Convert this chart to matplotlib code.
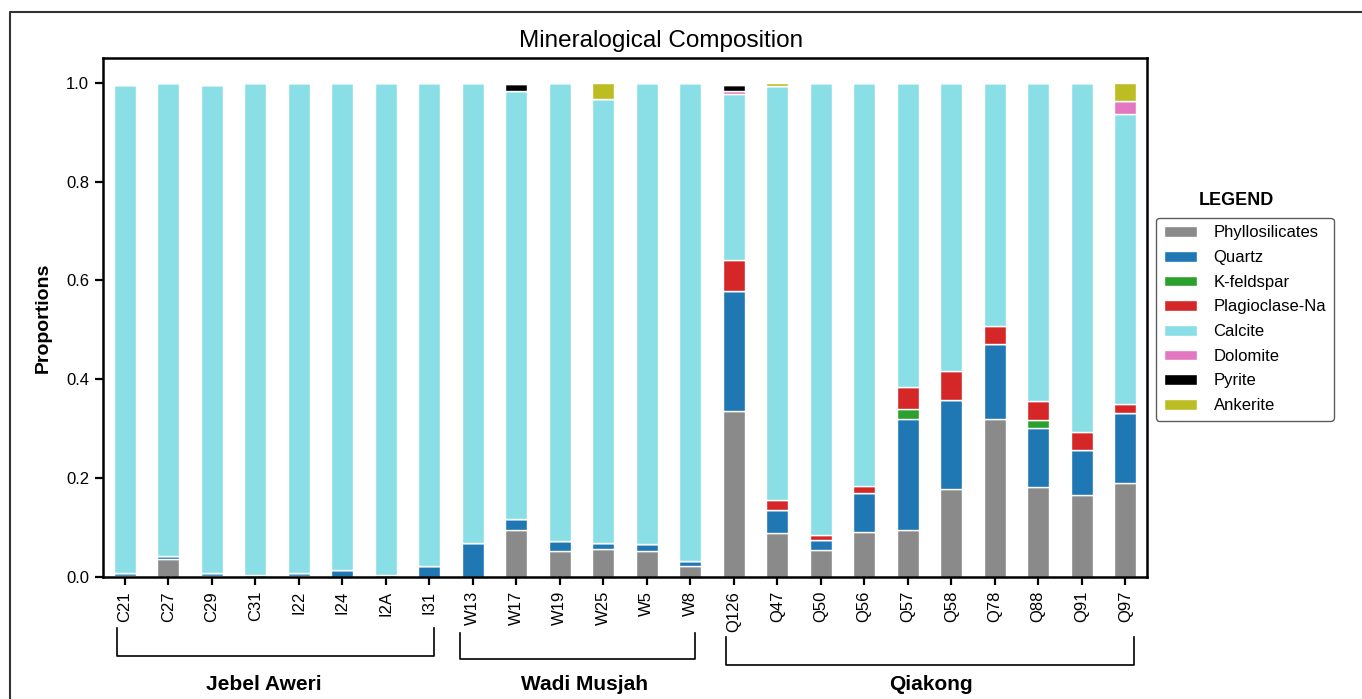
import matplotlib.pyplot as plt
import numpy as np
from matplotlib.lines import Line2D
from matplotlib.patches import Patch
from matplotlib.transforms import blended_transform_factory

plt.rcParams["font.family"] = ["Liberation Sans", "DejaVu Sans"]

samples = ["C21", "C27", "C29", "C31", "I22", "I24", "I2A", "I31",
           "W13", "W17", "W19", "W25", "W5", "W8",
           "Q126", "Q47", "Q50", "Q56", "Q57", "Q58", "Q78", "Q88", "Q91", "Q97"]

phyllosilicates = [0.002, 0.037, 0.002, 0.001, 0.002, 0.001, 0.001, 0.001,
                   0.000, 0.096, 0.053, 0.056, 0.052, 0.022,
                   0.336, 0.089, 0.055, 0.091, 0.095, 0.178, 0.320, 0.182, 0.166, 0.190]
quartz = [0.006, 0.005, 0.006, 0.004, 0.006, 0.013, 0.004, 0.021,
          0.069, 0.021, 0.020, 0.013, 0.014, 0.010,
          0.243, 0.046, 0.020, 0.079, 0.225, 0.180, 0.151, 0.119, 0.090, 0.141]
k_feldspar = [0, 0, 0, 0, 0, 0, 0, 0,
              0, 0, 0, 0, 0, 0,
              0, 0, 0, 0, 0.019, 0, 0, 0.017, 0, 0]
plagioclase_na = [0, 0, 0, 0, 0, 0, 0, 0,
                  0, 0, 0, 0, 0, 0,
                  0.063, 0.021, 0.010, 0.014, 0.046, 0.059, 0.037, 0.038, 0.038, 0.019]
calcite = [0.988, 0.958, 0.988, 0.995, 0.992, 0.986, 0.995, 0.978,
           0.931, 0.867, 0.927, 0.899, 0.934, 0.968,
           0.336, 0.837, 0.915, 0.816, 0.615, 0.583, 0.492, 0.644, 0.706, 0.586]
dolomite = [0, 0, 0, 0, 0, 0, 0, 0,
            0, 0, 0, 0, 0, 0,
            0.006, 0, 0, 0, 0, 0, 0, 0, 0, 0.028]
pyrite = [0, 0, 0, 0, 0, 0, 0, 0,
          0, 0.013, 0, 0, 0, 0,
          0.012, 0, 0, 0, 0, 0, 0, 0, 0, 0]
ankerite = [0, 0, 0, 0, 0, 0, 0, 0,
            0, 0, 0, 0.032, 0, 0,
            0, 0.007, 0, 0, 0, 0, 0, 0, 0, 0.036]

minerals = ["Phyllosilicates", "Quartz", "K-feldspar", "Plagioclase-Na",
            "Calcite", "Dolomite", "Pyrite", "Ankerite"]
series = [phyllosilicates, quartz, k_feldspar, plagioclase_na,
          calcite, dolomite, pyrite, ankerite]
colors = ["#8a8a8a", "#1f77b4", "#2ca02c", "#d62728",
          "#8adfe7", "#e377c2", "#000000", "#bcbd22"]

# site groups: (name, bracket start, bracket end, label x, bracket top, bracket bottom)
groups = [("Jebel Aweri", -0.18, 7.10, 3.2, -0.098, -0.152),
          ("Wadi Musjah", 7.70, 13.10, 10.57, -0.108, -0.158),
          ("Qiakong", 13.83, 23.21, 18.54, -0.116, -0.170)]

fig = plt.figure(figsize=(13.62, 6.99), dpi=100)
ax = fig.add_axes([103 / 1362, 1 - 577 / 699, (1147 - 103) / 1362, (577 - 58) / 699])

x = np.arange(len(samples))
bottom = np.zeros(len(samples))
for name, vals, col in zip(minerals, series, colors):
    vals = np.array(vals, dtype=float)
    ax.bar(x, vals, 0.5, bottom=bottom, color=col, edgecolor="white",
           linewidth=1.0, label=name)
    bottom += vals

ax.set_xlim(-0.5, len(samples) - 0.5)
ax.set_ylim(0, 1.05)
ax.set_xticks(x)
ax.set_xticklabels(samples, rotation=90, fontsize=12)
ax.set_yticks(np.arange(0, 1.01, 0.2))
ax.set_yticklabels([f"{v:.1f}" for v in np.arange(0, 1.01, 0.2)], fontsize=12)
ax.set_ylabel("Proportions", fontsize=14, fontweight="bold", labelpad=10)
ax.tick_params(length=6, width=1.6, direction="out", pad=4)
for spine in ax.spines.values():
    spine.set_linewidth(1.8)

fig.text(661 / 1362, 1 - 41 / 699, "Mineralogical Composition",
         ha="center", va="center", fontsize=17.5)

# group brackets beneath the tick labels
trans = blended_transform_factory(ax.transData, ax.transAxes)
for name, x0, x1, xl, ytop, ybot in groups:
    ax.add_line(Line2D([x0, x0, x1, x1], [ytop, ybot, ybot, ytop],
                       transform=trans, color="black", linewidth=1.2,
                       clip_on=False))
    ax.text(xl, -0.208, name, transform=trans, ha="center", va="center",
            fontsize=15, fontweight="bold")

handles = [Patch(facecolor=c, edgecolor="white", label=m)
           for m, c in zip(minerals, colors)]
leg = fig.legend(handles=handles, loc="upper left",
                 bbox_to_anchor=(1156 / 1362, 1 - 218 / 699),
                 bbox_transform=fig.transFigure, borderaxespad=0,
                 fontsize=12, frameon=True, fancybox=True,
                 handlelength=2.0, handleheight=0.6, labelspacing=0.58,
                 handletextpad=1.0, borderpad=0.45)
leg.get_frame().set_edgecolor("#333333")
leg.get_frame().set_linewidth(1.0)
fig.text(1236 / 1362, 1 - 200 / 699, "LEGEND", ha="center", va="center",
         fontsize=13, fontweight="bold")

# outer frame around the figure
fig.add_artist(Line2D([10 / 1362, 10 / 1362, 1.0], [0.0, 1 - 12 / 699, 1 - 12 / 699],
                      transform=fig.transFigure, color="#333333", linewidth=1.5))

fig.savefig("out.png", dpi=100)
